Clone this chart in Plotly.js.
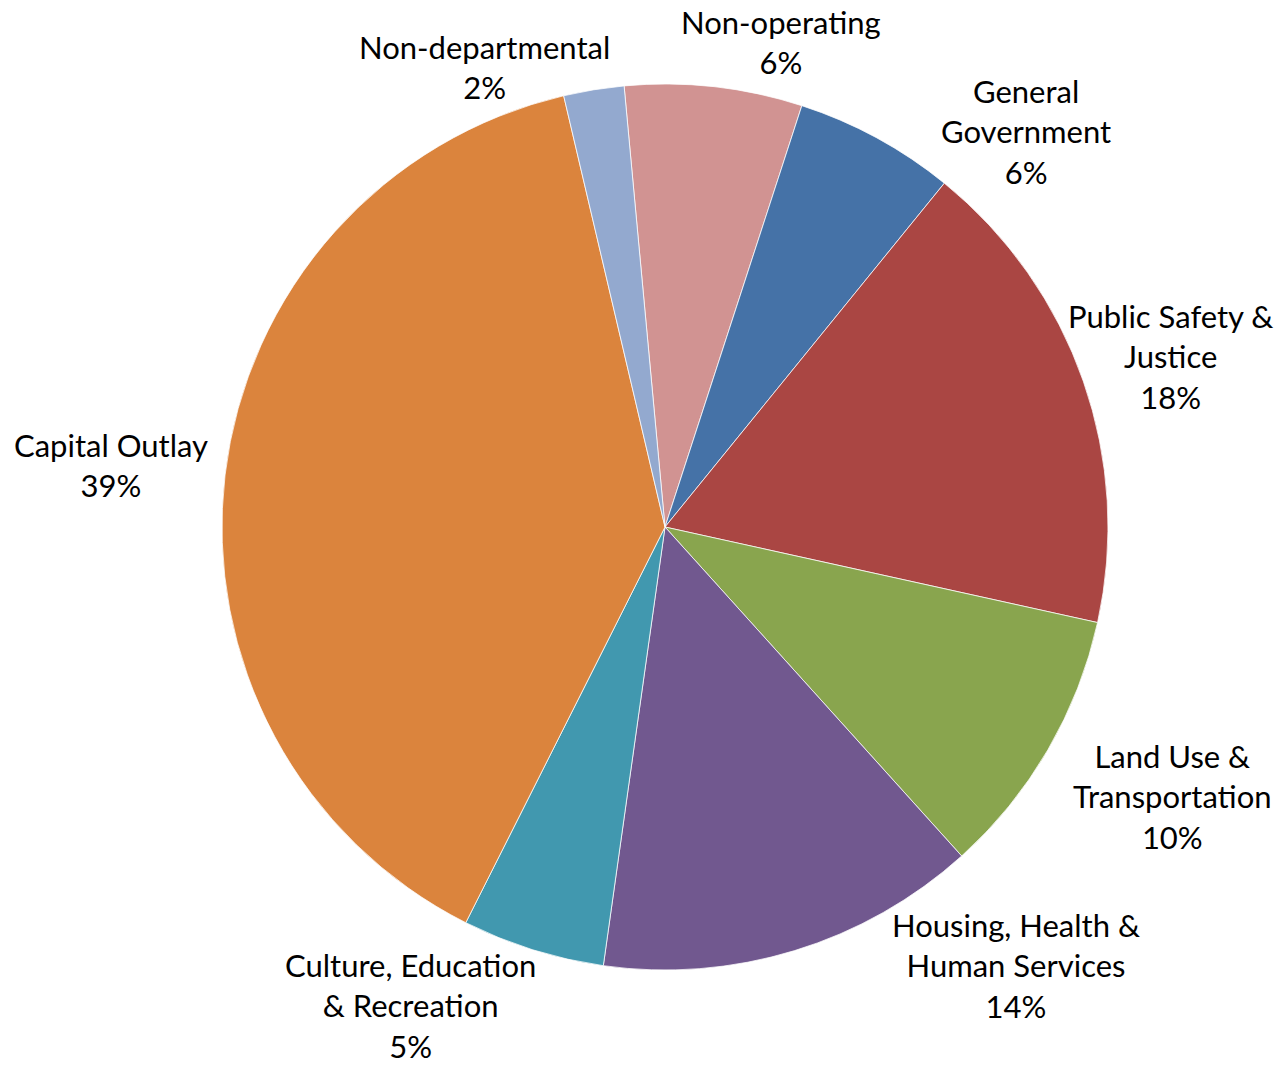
<!DOCTYPE html>
<html>
<head>
<meta charset="utf-8">
<script src="https://cdn.plot.ly/plotly-3.0.1.min.js"></script>
<style>
  html, body { margin: 0; padding: 0; background: #ffffff; }
  #chart { width: 1280px; height: 1068px; }
</style>
</head>
<body>
<div id="chart"></div>
<script>
// Slice order: clockwise from just left of 12 o'clock
const categories = [
  "Non-operating",
  "General<br>Government",
  "Public Safety &<br>Justice",
  "Land Use &<br>Transportation",
  "Housing, Health &<br>Human Services",
  "Culture, Education<br>& Recreation",
  "Capital Outlay",
  "Non-departmental"
];
// Share of budget (percent)
const shares = [6.47, 5.86, 17.6, 9.86, 13.9, 5.2, 38.9, 2.2];
const sliceColors = [
  "#D19392", "#4572A7", "#AA4643", "#89A54E",
  "#71588F", "#4198AF", "#DB843D", "#93A9CF"
];

// ---- layout / presentation ----
const W = 1280, H = 1068;
const M = { l: 50, r: 0, t: 84, b: 98 };
const plotW = W - M.l - M.r, plotH = H - M.t - M.b;
// label block centres (page pixels), one per slice, Excel-style placement
const labelCenters = [
  [781, 42], [1026, 131], [1170, 356], [1172, 796],
  [1016, 965], [410, 1005], [111, 465], [484, 67]
];

const total = shares.reduce((a, b) => a + b, 0);
const annotations = categories.map((c, i) => ({
  xref: "paper", yref: "paper",
  x: (labelCenters[i][0] - M.l) / plotW,
  y: (H - M.b - labelCenters[i][1]) / plotH,
  xanchor: "center", yanchor: "middle", align: "center",
  showarrow: false,
  borderpad: 0,
  text: c + "<br>" + Math.round(shares[i] / total * 100) + "%",
  font: { family: "Lato, 'Open Sans', sans-serif", size: 31, color: "#000000" }
}));

const trace = {
  type: "pie",
  labels: categories,
  values: shares,
  sort: false,
  direction: "clockwise",
  rotation: -5.3,
  marker: { colors: sliceColors, line: { color: "#ffffff", width: 0.75 } },
  textinfo: "none",
  hoverinfo: "none",
  showlegend: false,
  automargin: false
};

const layout = {
  width: W,
  height: H,
  margin: M,
  paper_bgcolor: "#ffffff",
  plot_bgcolor: "#ffffff",
  showlegend: false,
  annotations: annotations
};

Plotly.newPlot("chart", [trace], layout, { displayModeBar: false, staticPlot: true });
</script>
</body>
</html>
